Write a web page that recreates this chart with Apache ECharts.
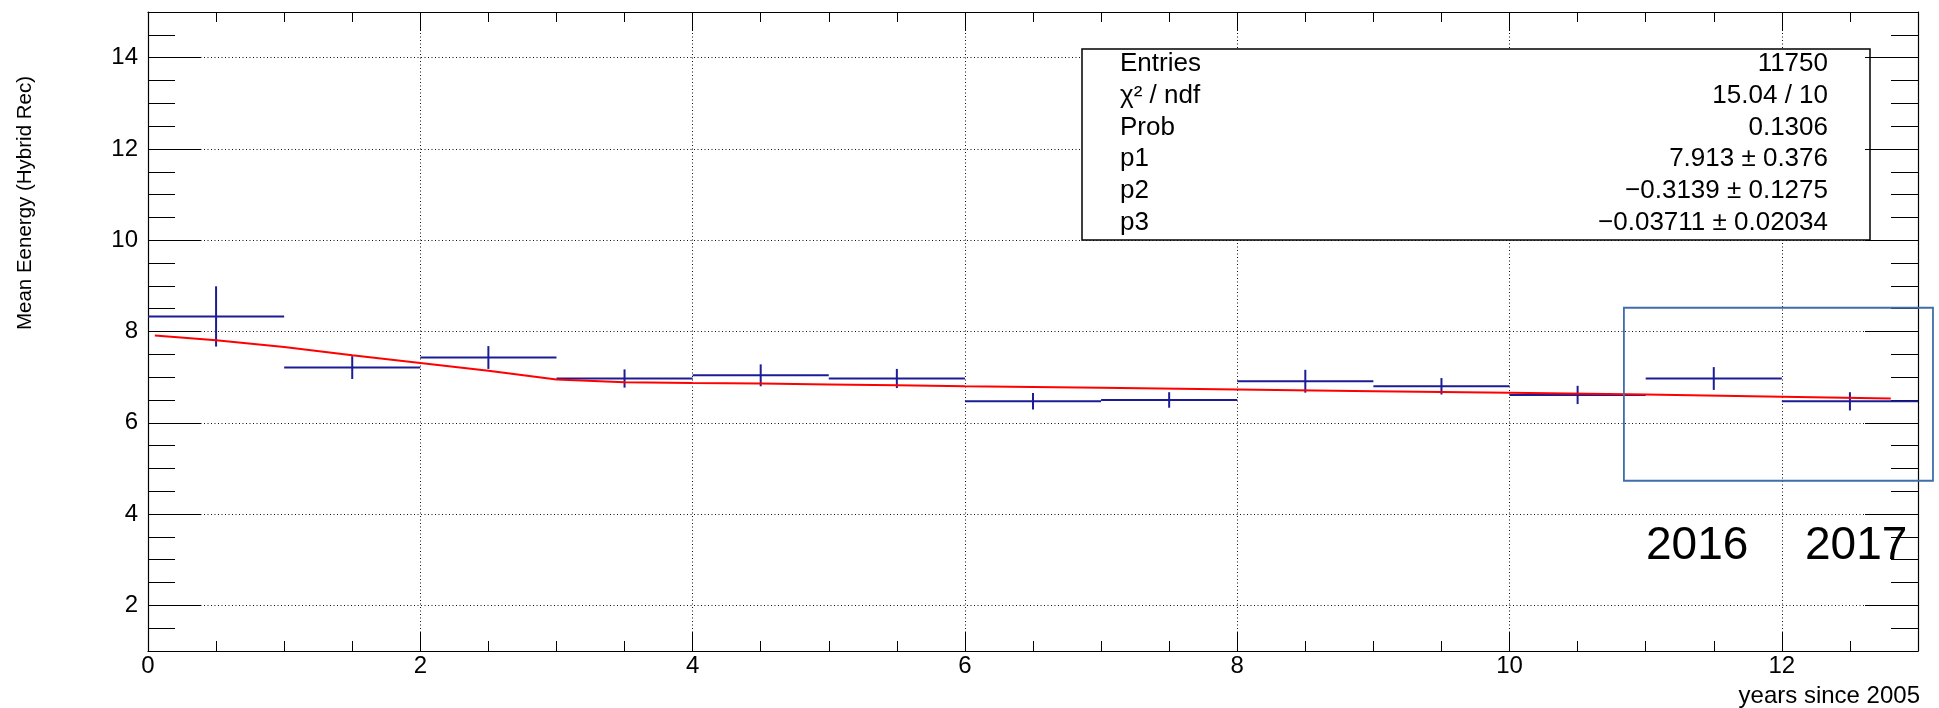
<!DOCTYPE html>
<html>
<head>
<meta charset="utf-8">
<script src="https://cdn.jsdelivr.net/npm/echarts@6/dist/echarts.min.js"></script>
<style>
  html, body { margin: 0; padding: 0; background: #fff; }
  #chart { width: 1939px; height: 708px; }
</style>
</head>
<body>
<div id="chart"></div>
<script>
// bin centres (years since 2005), bin half width, mean energy and its error
const binCenters = [0.5, 1.5, 2.5, 3.5, 4.5, 5.5, 6.5, 7.5, 8.5, 9.5, 10.5, 11.5, 12.5]
const meanEnergy = [8.33, 7.21, 7.43, 6.97, 7.04, 6.97, 6.47, 6.50, 6.91, 6.80, 6.61, 6.97, 6.47]
const meanErrors = [0.66, 0.25, 0.25, 0.20, 0.24, 0.21, 0.18, 0.17, 0.25, 0.18, 0.20, 0.25, 0.20]
const binHalf = 0.5

// fit curve
const fitX = [0.05, 0.5, 1.0, 1.5, 2.0, 2.5, 3.0, 3.5, 4.0, 4.5, 5.0, 5.5, 6.0, 7.0, 8.0, 9.0, 10.0, 11.0, 12.0, 12.8]
const fitY = [7.91, 7.81, 7.66, 7.48, 7.31, 7.14, 6.95, 6.89, 6.87, 6.86, 6.84, 6.82, 6.80, 6.77, 6.73, 6.69, 6.66, 6.62, 6.57, 6.53]

// axis ticks
const yMajorTicks = [2, 4, 6, 8, 10, 12, 14]

// stats box
const statNames = ['Entries', 'χ² / ndf', 'Prob', 'p1', 'p2', 'p3']
const statValues = ['11750', '15.04 / 10', '0.1306', '7.913 ± 0.376', '−0.3139 ± 0.1275', '−0.03711 ± 0.02034']

// highlighted region (data coords) and year labels
const boxFrom = [10.84, 8.52]
const boxTo = [13.11, 4.73]
const yearLabels = ['2016', '2017']

const FONT = '"Liberation Sans", Arial, Helvetica, sans-serif'
const BLUE = '#1c1c96'
const GRID = { color: '#111', type: [1, 2.5], width: 1 }

let chart = echarts.init(document.getElementById('chart'))

function xAxisCfg (pos, major, showLabel) {
  return {
    type: 'value',
    position: pos,
    min: 0,
    max: 13,
    interval: major ? 2 : 0.5,
    axisLine: { show: major, lineStyle: { color: '#000', width: 1.2 } },
    axisTick: { show: true, inside: true, length: major ? 19 : 10, lineStyle: { color: '#000', width: 1 } },
    axisLabel: { show: showLabel, color: '#000', fontSize: 24, fontFamily: FONT, margin: 3, showMaxLabel: false },
    splitLine: { show: major && pos === 'bottom', lineStyle: GRID }
  }
}

function yAxisCfg (pos, major, showLabel) {
  let cfg = {
    type: 'value',
    position: pos,
    min: 1,
    max: 15,
    axisLine: { show: major, onZero: false, lineStyle: { color: '#000', width: 1.2 } },
    axisTick: { show: true, inside: true, length: major ? 53 : 27, lineStyle: { color: '#000', width: 1 } },
    axisLabel: { show: showLabel, color: '#000', fontSize: 24, fontFamily: FONT, margin: 10 },
    splitLine: { show: major && pos === 'left', lineStyle: GRID }
  }
  if (major) {
    cfg.axisTick.customValues = yMajorTicks
    cfg.axisLabel.customValues = yMajorTicks
  } else {
    cfg.interval = 0.5
  }
  return cfg
}

let statsChildren = [{
  type: 'rect',
  shape: { x: 1082, y: 49, width: 788, height: 191 },
  style: { fill: '#fff', stroke: '#000', lineWidth: 1.5 }
}]
for (let i = 0; i < statNames.length; i++) {
  let y = 64 + i * 31.7
  statsChildren.push({
    type: 'text', x: 1120, y: y,
    style: { text: statNames[i], font: '26px ' + FONT, fill: '#000', align: 'left', verticalAlign: 'middle' }
  })
  statsChildren.push({
    type: 'text', x: 1828, y: y,
    style: { text: statValues[i], font: '26px ' + FONT, fill: '#000', align: 'right', verticalAlign: 'middle' }
  })
}

let option = {
  animation: false,
  backgroundColor: '#fff',
  grid: { left: 148, right: 21, top: 12, bottom: 57, containLabel: false, outerBoundsMode: 'none' },
  xAxis: [
    xAxisCfg('bottom', true, true),
    xAxisCfg('bottom', false, false),
    xAxisCfg('top', true, false),
    xAxisCfg('top', false, false)
  ],
  yAxis: [
    yAxisCfg('left', true, true),
    yAxisCfg('left', false, false),
    yAxisCfg('right', true, false),
    yAxisCfg('right', false, false)
  ],
  series: [
    {
      type: 'custom',
      xAxisIndex: 0,
      yAxisIndex: 0,
      z: 3,
      data: binCenters.map((x, i) => [x, meanEnergy[i], meanErrors[i]]),
      renderItem: function (params, api) {
        let x = api.value(0)
        let y = api.value(1)
        let e = api.value(2)
        let l = api.coord([x - binHalf, y])
        let r = api.coord([x + binHalf, y])
        let t = api.coord([x, y + e])
        let b = api.coord([x, y - e])
        return {
          type: 'group',
          children: [
            { type: 'line', shape: { x1: l[0], y1: l[1], x2: r[0], y2: r[1] }, style: { stroke: BLUE, lineWidth: 2 } },
            { type: 'line', shape: { x1: t[0], y1: t[1], x2: b[0], y2: b[1] }, style: { stroke: BLUE, lineWidth: 2 } }
          ]
        }
      }
    },
    {
      type: 'line',
      xAxisIndex: 0,
      yAxisIndex: 0,
      z: 4,
      showSymbol: false,
      lineStyle: { color: '#ff0000', width: 2 },
      data: fitX.map((x, i) => [x, fitY[i]])
    }
  ]
}
chart.setOption(option)

// overlays: titles, stats box, highlighted region
let p0 = chart.convertToPixel({ gridIndex: 0 }, boxFrom)
let p1 = chart.convertToPixel({ gridIndex: 0 }, boxTo)
chart.setOption({
  graphic: [
    {
      type: 'text', x: 25, y: 203, rotation: Math.PI / 2,
      style: { text: 'Mean Eenergy (Hybrid Rec)', font: '20.5px ' + FONT, fill: '#000', align: 'center', verticalAlign: 'middle' }
    },
    {
      type: 'text', x: 1920, y: 696,
      style: { text: 'years since 2005', font: '24px ' + FONT, fill: '#000', align: 'right', verticalAlign: 'middle' }
    },
    { type: 'group', z: 100, children: statsChildren },
    {
      type: 'rect', z: 100,
      shape: { x: p0[0], y: p0[1], width: p1[0] - p0[0], height: p1[1] - p0[1] },
      style: { fill: 'none', stroke: '#3f6eab', lineWidth: 1.8 }
    },
    {
      type: 'text', x: 1646, y: 546, z: 100,
      style: { text: yearLabels[0], font: '46px ' + FONT, fill: '#000', align: 'left', verticalAlign: 'middle' }
    },
    {
      type: 'text', x: 1805, y: 546, z: 100,
      style: { text: yearLabels[1], font: '46px ' + FONT, fill: '#000', align: 'left', verticalAlign: 'middle' }
    }
  ]
})
</script>
</body>
</html>
